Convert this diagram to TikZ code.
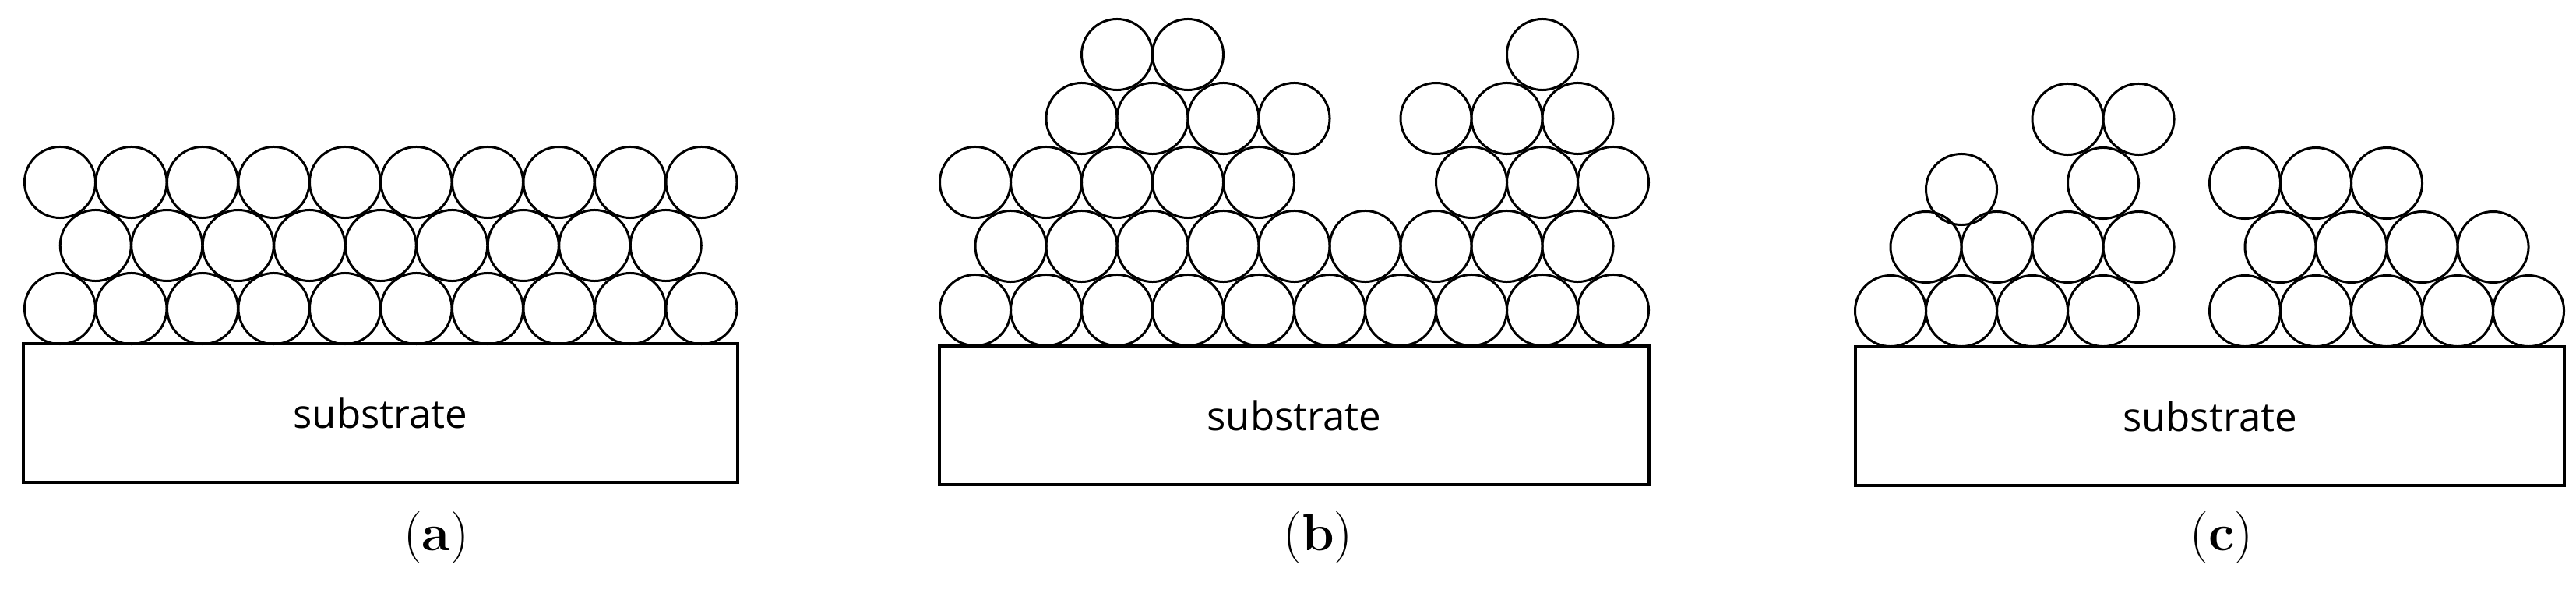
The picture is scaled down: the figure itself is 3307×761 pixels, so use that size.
\documentclass[tikz,border=0pt]{standalone}
\usepackage{fontspec}
\newfontfamily\subfont{Open Sans}
\begin{document}
\begin{tikzpicture}[x=0.01cm,y=-0.01cm,
  ball/.style={circle,draw,line width=0.85pt,minimum size=0.91cm,inner sep=0pt},
  sub/.style={draw,line width=1.1pt,inner sep=0pt,font=\subfont\fontsize{14.5}{16}\selectfont},
  lab/.style={font=\fontsize{19}{22}\selectfont}]
\useasboundingbox (0,0) rectangle (3307,761);
% panel a
\node[sub,minimum width=9.17cm,minimum height=1.78cm] (sa) at (488.5,530) {substrate};
\foreach \i in {0,...,9} \node[ball] (a1-\i) at (77+\i*91.5,396) {};
\foreach \i in {0,...,8} \node[ball] (a2-\i) at (122.75+\i*91.5,315) {};
\foreach \i in {0,...,9} \node[ball] (a3-\i) at (77+\i*91.5,234) {};
\node[lab] (la) at (560,690) {(\textbf{a})};
% panel b
\node[sub,minimum width=9.11cm,minimum height=1.78cm] (sb) at (1661.5,533) {substrate};
\foreach \i in {0,...,9} \node[ball] (b1-\i) at (1252+\i*91,398) {};
\foreach \i in {0,...,8} \node[ball] (b2-\i) at (1297.5+\i*91,316) {};
\foreach \i in {0,1,2,3,4,7,8,9} \node[ball] (b3-\i) at (1252+\i*91,234) {};
\foreach \i in {1,2,3,4,6,7,8} \node[ball] (b4-\i) at (1297.5+\i*91,152) {};
\foreach \i in {2,3,8} \node[ball] (b5-\i) at (1252+\i*91,70) {};
\node[lab] (lb) at (1692,690) {(\textbf{b})};
% panel c
\node[sub,minimum width=9.10cm,minimum height=1.78cm] (sc) at (2837,534) {substrate};
\foreach \i in {0,1,2,3,5,6,7,8,9} \node[ball] (c1-\i) at (2427+\i*91,399) {};
\foreach \i in {0,1,2,3,5,6,7,8} \node[ball] (c2-\i) at (2472.5+\i*91,317) {};
\foreach \i in {3,5,6,7} \node[ball] (c3-\i) at (2427+\i*91,235) {};
\node[ball] (c3-1) at (2518,243) {};
\foreach \i in {2,3} \node[ball] (c4-\i) at (2472.5+\i*91,153) {};
\node[lab] (lc) at (2852,690) {(\textbf{c})};
\end{tikzpicture}
\end{document}
